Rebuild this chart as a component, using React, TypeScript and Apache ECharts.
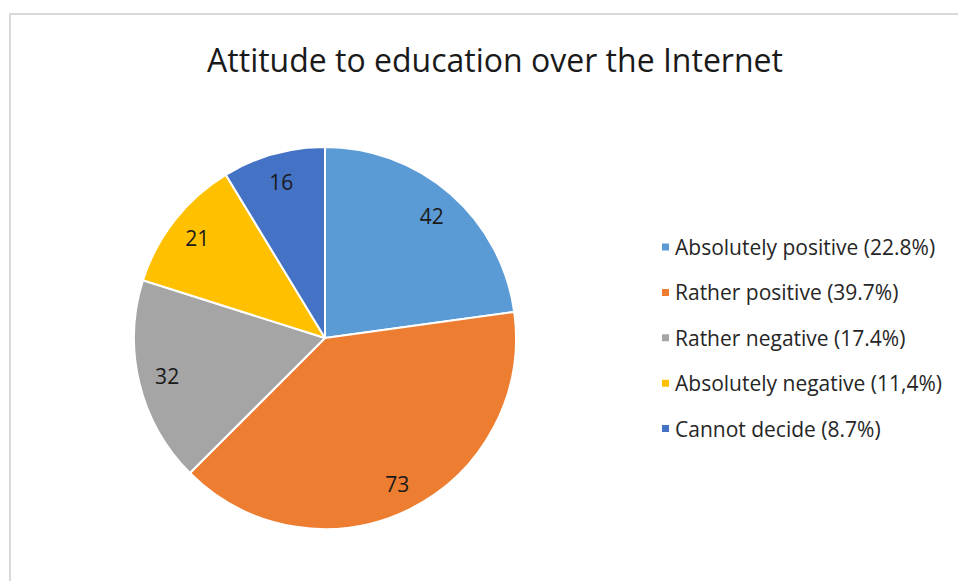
import React, { useEffect, useRef } from "react";
import * as echarts from "echarts";

const titleText = "Attitude to education over the Internet";
const categories = [
  "Absolutely positive (22.8%)",
  "Rather positive (39.7%)",
  "Rather negative (17.4%)",
  "Absolutely negative (11,4%)",
  "Cannot decide (8.7%)",
];
const values = [42, 73, 32, 21, 16];
const colors = ["#5B9BD5", "#ED7D31", "#A5A5A5", "#FFC000", "#4472C4"];

const FONT = "Open Sans";

export default function App() {
  const ref = useRef<HTMLDivElement>(null);
  useEffect(() => {
    if (!ref.current) return;
    const chart = echarts.init(ref.current, null, { renderer: "svg" });
    const data = categories.map((name, i) => ({ name, value: values[i] }));
    chart.setOption({
      animation: false,
      color: colors,
      graphic: [
        {
          type: "rect",
          shape: { x: 10, y: 14, width: 1200, height: 1000 },
          style: { fill: "none", stroke: "#d9d9d9", lineWidth: 2 },
          silent: true,
        },
      ],
      title: {
        text: titleText,
        left: 490,
        textAlign: "center",
        top: 38,
        textStyle: { fontFamily: FONT, fontSize: 32, fontWeight: "normal", color: "#1a1a1a" },
      },
      legend: {
        orient: "vertical",
        left: 655,
        top: 231,
        icon: "rect",
        itemWidth: 9,
        itemHeight: 9,
        itemGap: 23.4,
        data: categories,
        textStyle: { fontFamily: FONT, fontSize: 21, color: "#262626", lineHeight: 22, padding: [0, 0, 0, 0] },
      },
      series: [
        {
          type: "pie",
          center: [325, 338],
          radius: [0, 191],
          startAngle: 90,
          clockwise: true,
          label: { show: false },
          labelLine: { show: false },
          itemStyle: { borderColor: "#fff", borderWidth: 2 },
          emphasis: { disabled: true },
          data,
        },
        {
          type: "pie",
          center: [325, 338],
          radius: [128, 191],
          startAngle: 90,
          clockwise: true,
          silent: true,
          legendHoverLink: false,
          itemStyle: { color: "transparent" },
          label: {
            show: true,
            position: "inside",
            formatter: "{c}",
            fontFamily: FONT,
            fontSize: 21,
            color: "#1a1a1a",
          },
          labelLine: { show: false },
          emphasis: { disabled: true },
          data,
        },
      ],
    });
    return () => chart.dispose();
  }, []);
  return (
    <div
      ref={ref}
      style={{ position: "absolute", left: 0, top: 0, width: 958, height: 581, background: "#fff" }}
    />
  );
}
